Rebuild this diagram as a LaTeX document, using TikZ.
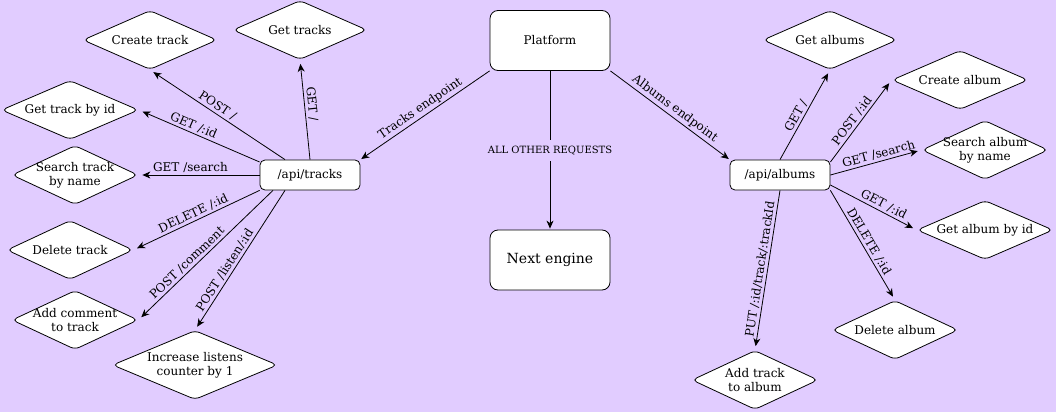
\documentclass[tikz,border=0pt]{standalone}
\usepackage{fontspec}
\setmainfont{DejaVu Serif}
\usetikzlibrary{shapes.geometric,arrows.meta,calc}
\definecolor{bgpurple}{RGB}{225,204,255}
\begin{document}
\begin{tikzpicture}[x=1pt,y=-1pt,
  every node/.style={font=\fontsize{12}{14}\selectfont},
  box/.style={draw=black, fill=white, rounded corners=8pt, line width=0.8pt, minimum width=120pt, minimum height=60pt, inner sep=0pt},
  epbox/.style={draw=black, fill=white, rounded corners=5pt, minimum width=100pt, minimum height=30pt, inner sep=0pt, line width=0.8pt},
  dia/.style={diamond, draw=black, fill=white, rounded corners=5pt, inner sep=0pt, line width=0.8pt},
  arr/.style={draw, line width=0.8pt, -{Stealth[length=8pt,width=7pt,inset=2.5pt]}, shorten >=4pt},
  lbl/.style={sloped, above, inner sep=2pt}
]
\fill[bgpurple] (0,0) rectangle (1056,412);
\useasboundingbox (0,0) rectangle (1056,412);

% central nodes
\node[box] (pl) at (550,40.5) {Platform};
\node[box, font=\fontsize{14}{16}\selectfont] (ne) at (550,260) {Next engine};
\node[epbox] (tr) at (310,175) {/api/tracks};
\node[epbox] (al) at (780,175) {/api/albums};

% track diamonds
\node[dia, minimum width=134pt, minimum height=59pt, label={center:Create track}] (ct) at (150,40) {};
\node[dia, minimum width=134pt, minimum height=59pt, label={center:Get tracks}] (gt) at (300,30) {};
\node[dia, minimum width=137pt, minimum height=59pt, label={center:Get track by id}] (gtid) at (70,110) {};
\node[dia, minimum width=126pt, minimum height=59pt, label={[align=center]center:Search track\\by name}] (st) at (75,175) {};
\node[dia, minimum width=126pt, minimum height=59pt, label={center:Delete track}] (dt) at (70,250) {};
\node[dia, minimum width=126pt, minimum height=59pt, label={[align=center]center:Add comment\\to track}] (ac) at (75,320) {};
\node[dia, minimum width=165pt, minimum height=69pt, label={[align=center]center:Increase listens\\counter by 1}] (il) at (195,365) {};

% album diamonds
\node[dia, minimum width=134pt, minimum height=59pt, label={center:Get albums}] (ga) at (830,40) {};
\node[dia, minimum width=136pt, minimum height=59pt, label={center:Create album}] (ca) at (960,80) {};
\node[dia, minimum width=126pt, minimum height=59pt, label={[align=center]center:Search album\\by name}] (sa) at (985,150) {};
\node[dia, minimum width=136pt, minimum height=59pt, label={center:Get album by id}] (gaid) at (985,230) {};
\node[dia, minimum width=126pt, minimum height=59pt, label={center:Delete album}] (da) at (895,330) {};
\node[dia, minimum width=126pt, minimum height=59pt, label={[align=center]center:Add track\\to album}] (at) at (755,380) {};

% platform edges
\draw[arr, shorten >=1pt] (pl.south west) -- node[lbl]{Tracks endpoint} (tr.north east);
\draw[arr, shorten >=1pt] (pl.south east) -- node[lbl]{Albums endpoint} (al.north west);
\draw[arr, shorten >=1pt] (pl.south) -- node[fill=bgpurple, font=\fontsize{10}{12}\selectfont, inner xsep=2pt, inner ysep=6pt]{ALL OTHER REQUESTS} (ne.north);

% track edges
\draw[arr] ($(tr.north)+(-25,0)$) -- node[lbl, pos=0.53]{POST /} (ct.south);
\draw[arr] (tr.north) -- node[lbl, pos=0.55]{GET /} (gt.south);
\draw[arr] ($(tr.west)+(0,-13)$) -- node[lbl, pos=0.57]{GET /:id} (gtid.east);
\draw[arr] (tr.west) -- node[lbl, pos=0.57]{GET /search} (st.east);
\draw[arr] (tr.south west) -- node[lbl, pos=0.5]{DELETE /:id} (dt.east);
\draw[arr] ($(tr.south)+(-37,0)$) -- node[lbl, pos=0.6]{POST /comment} (ac.east);
\draw[arr] ($(tr.south)+(-25,0)$) -- node[lbl, pos=0.6]{POST /listen/:id} (il.north);

% album edges
\draw[arr] (al.north) -- node[lbl, pos=0.45]{GET /} (ga.south);
\draw[arr] ($(al.east)+(0,-13)$) -- node[lbl, pos=0.45]{POST /:id} (ca.west);
\draw[arr] (al.east) -- node[lbl, pos=0.55]{GET /search} (sa.west);
\draw[arr] ($(al.east)+(0,10)$) -- node[lbl, pos=0.58]{GET /:id} (gaid.west);
\draw[arr] (al.south east) -- node[lbl, pos=0.5]{DELETE /:id} (da.north);
\draw[arr] (al.south) -- node[lbl, pos=0.5]{PUT /:id/track/:trackId} (at.north);
\end{tikzpicture}
\end{document}
